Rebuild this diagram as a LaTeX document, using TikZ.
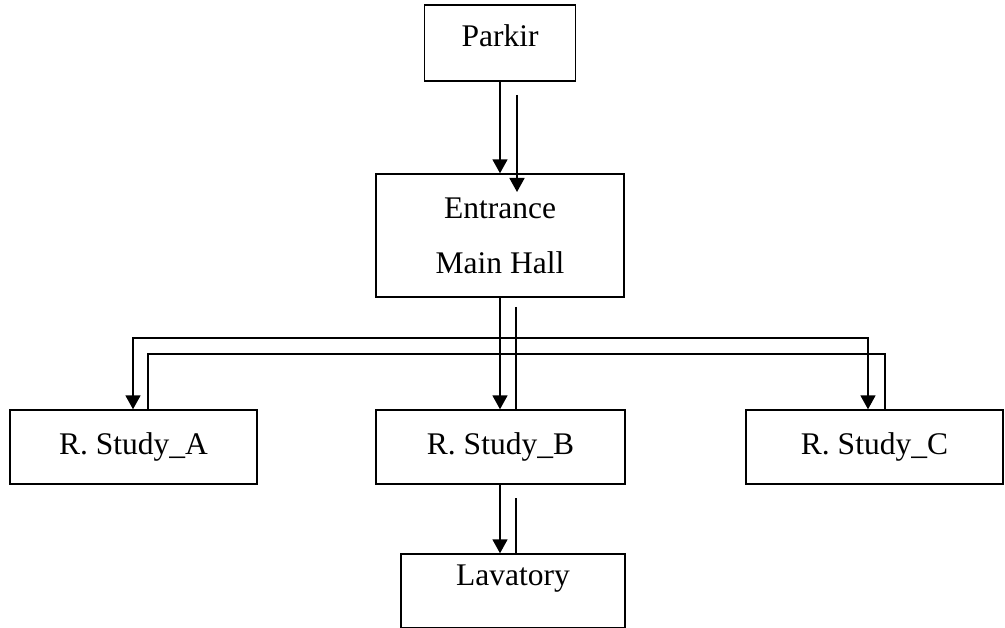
\documentclass[tikz,border=0pt]{standalone}
\usepackage{fontspec}
\setmainfont{Liberation Serif}
\usetikzlibrary{arrows.meta}
\begin{document}
\begin{tikzpicture}[x=1pt,y=-1pt,
  plain/.style={draw=black,line width=1.4pt,rectangle,inner sep=0pt,
    font=\fontsize{31.5}{55}\selectfont},
  box/.style={plain,text height=22pt,text depth=7pt},
  wire/.style={draw=black,line width=1.8pt},
  arr/.style={wire,-{Triangle[length=14pt,width=15pt]}}]
\useasboundingbox (0,0) rectangle (1005,628);

% rooms
\node[box,minimum width=151pt,minimum height=76pt,text depth=14pt] (parkir) at (500,43) {Parkir};
\node[plain,minimum width=248pt,minimum height=123pt,align=center] (entr) at (500,235.5) {Entrance\\Main Hall};
\node[box,minimum width=247pt,minimum height=74pt] (sa) at (133.5,447) {R. Study\_A};
\node[box,minimum width=249pt,minimum height=74pt] (sb) at (500.5,447) {R. Study\_B};
\node[box,minimum width=257pt,minimum height=74pt] (sc) at (874.5,447) {R. Study\_C};
\node[box,minimum width=224pt,minimum height=74pt,text depth=34pt] (lav) at (513,591) {Lavatory};

% path helpers
\coordinate (p1) at (517,95);
\coordinate (p2) at (517,192);
\coordinate (e1) at (500,297);
\coordinate (e2) at (516,307);
\coordinate (ha1) at (133,338);
\coordinate (hc1) at (868,338);
\coordinate (ha2) at (148,354);
\coordinate (hc2) at (885,354);
\coordinate (b1) at (500,484);
\coordinate (b2) at (516,498);

% Parkir -> Entrance
\draw[arr] (parkir.south) -- (parkir.south |- entr.north);
\draw[arr] (p1) -- (p2);

% Entrance -> study rooms
\draw[arr] (e1) -- (e1 |- sb.north);
\draw[arr] (e1 |- ha1) -- (ha1) -- (ha1 |- sa.north);
\draw[arr] (e1 |- hc1) -- (hc1) -- (hc1 |- sc.north);
\draw[wire] (e2) -- (e2 |- sb.north);
\draw[wire] (ha2 |- sa.north) -- (ha2) -- (hc2) -- (hc2 |- sc.north);

% Study B -> Lavatory
\draw[arr] (b1) -- (b1 |- lav.north);
\draw[wire] (b2) -- (b2 |- lav.north);
\end{tikzpicture}
\end{document}
